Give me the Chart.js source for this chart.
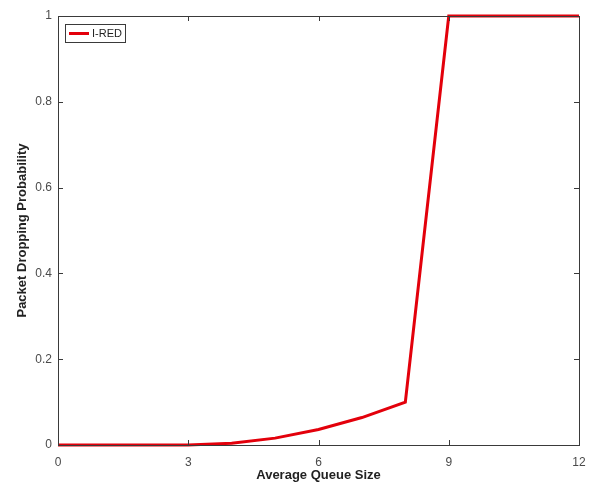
<!DOCTYPE html>
<html>
<head>
<meta charset="utf-8">
<script src="https://cdn.jsdelivr.net/npm/chart.js@4"></script>
<style>
  html, body { margin: 0; padding: 0; background: #fff; }
  #wrap { width: 592px; height: 486px; }
</style>
</head>
<body>
<div id="wrap"><canvas id="c" width="592" height="486"></canvas></div>
<script>
// ── Data ───────────────────────────────────────────────────────────────────
const QUEUE_SIZE = [0, 1, 2, 3, 4, 5, 6, 7, 8, 9, 10, 11, 12];
const DROP_PROB  = [0, 0, 0, 0, 0.004, 0.016, 0.036, 0.064, 0.1, 1, 1, 1, 1];
const SERIES_NAME = 'I-RED';
const X_TICKS = [0, 3, 6, 9, 12];
const Y_TICKS = [0, 0.2, 0.4, 0.6, 0.8, 1];

const AXIS_COLOR = '#3a3a3a';
const TEXT_COLOR = '#4a4a4a';
const TITLE_COLOR = '#222';
const LINE_COLOR = '#e3000b';
const FONT = '"Liberation Sans", Arial, sans-serif';

// box around the plot, ticks pointing inward (matlab look), legend inside
const matlabBox = {
  id: 'matlabBox',
  afterDatasetsDraw(chart) {
    const { ctx, chartArea: a, scales } = chart;
    ctx.save();
    ctx.strokeStyle = AXIS_COLOR;
    ctx.lineWidth = 1;
    ctx.strokeRect(a.left + 0.5, a.top + 0.5, a.right - a.left, a.bottom - a.top);

    const len = 5;
    ctx.beginPath();
    X_TICKS.forEach(v => {
      const x = Math.round(scales.x.getPixelForValue(v)) + 0.5;
      ctx.moveTo(x, a.bottom); ctx.lineTo(x, a.bottom - len);
      ctx.moveTo(x, a.top);    ctx.lineTo(x, a.top + len);
    });
    Y_TICKS.forEach(v => {
      const y = Math.round(scales.y.getPixelForValue(v)) + 0.5;
      ctx.moveTo(a.left, y);  ctx.lineTo(a.left + len, y);
      ctx.moveTo(a.right, y); ctx.lineTo(a.right - len, y);
    });
    ctx.stroke();

    // legend
    const lx = a.left + 7, ly = a.top + 8, lw = 60, lh = 18;
    ctx.fillStyle = '#fff';
    ctx.fillRect(lx, ly, lw, lh);
    ctx.strokeStyle = AXIS_COLOR;
    ctx.strokeRect(lx + 0.5, ly + 0.5, lw, lh);
    ctx.strokeStyle = LINE_COLOR;
    ctx.lineWidth = 3;
    ctx.beginPath();
    ctx.moveTo(lx + 4, ly + lh / 2 + 0.5);
    ctx.lineTo(lx + 24, ly + lh / 2 + 0.5);
    ctx.stroke();
    ctx.fillStyle = '#222';
    ctx.font = '11px ' + FONT;
    ctx.textBaseline = 'middle';
    ctx.fillText(SERIES_NAME, lx + 27, ly + lh / 2 + 1);
    ctx.restore();
  }
};

new Chart(document.getElementById('c'), {
  type: 'line',
  data: {
    datasets: [{
      label: SERIES_NAME,
      data: QUEUE_SIZE.map((x, i) => ({ x: x, y: DROP_PROB[i] })),
      borderColor: LINE_COLOR,
      backgroundColor: LINE_COLOR,
      borderWidth: 3,
      pointRadius: 0,
      tension: 0,
      clip: false,
    }]
  },
  options: {
    responsive: false,
    animation: false,
    devicePixelRatio: 1,
    layout: { padding: { top: 16, right: 13, left: 0, bottom: 0 } },
    plugins: { legend: { display: false }, tooltip: { enabled: false } },
    scales: {
      x: {
        type: 'linear',
        min: 0, max: 12,
        afterBuildTicks: s => { s.ticks = X_TICKS.map(v => ({ value: v })); },
        afterFit: s => { s.height = 41; s.paddingLeft = 0; s.paddingRight = 0; },
        grid: { display: false, drawTicks: false },
        border: { display: false },
        ticks: { color: TEXT_COLOR, padding: 10, font: { size: 12, family: FONT }, maxRotation: 0,
                 callback: v => String(v) },
        title: { display: true, text: 'Average Queue Size', color: TITLE_COLOR, padding: { top: 0, bottom: 3 },
                 font: { size: 13, weight: 'bold', family: FONT } }
      },
      y: {
        type: 'linear',
        min: 0, max: 1,
        afterBuildTicks: s => { s.ticks = Y_TICKS.map(v => ({ value: v })); },
        afterFit: s => { s.width = 58; s.paddingTop = 0; s.paddingBottom = 0; },
        grid: { display: false, drawTicks: false },
        border: { display: false },
        ticks: { color: TEXT_COLOR, padding: 6, font: { size: 12, family: FONT },
                 callback: v => String(Math.round(v * 10) / 10) },
        title: { display: true, text: 'Packet Dropping Probability', color: TITLE_COLOR, padding: { top: 15, bottom: 0 },
                 font: { size: 13, weight: 'bold', family: FONT } }
      }
    }
  },
  plugins: [matlabBox]
});
</script>
</body>
</html>
